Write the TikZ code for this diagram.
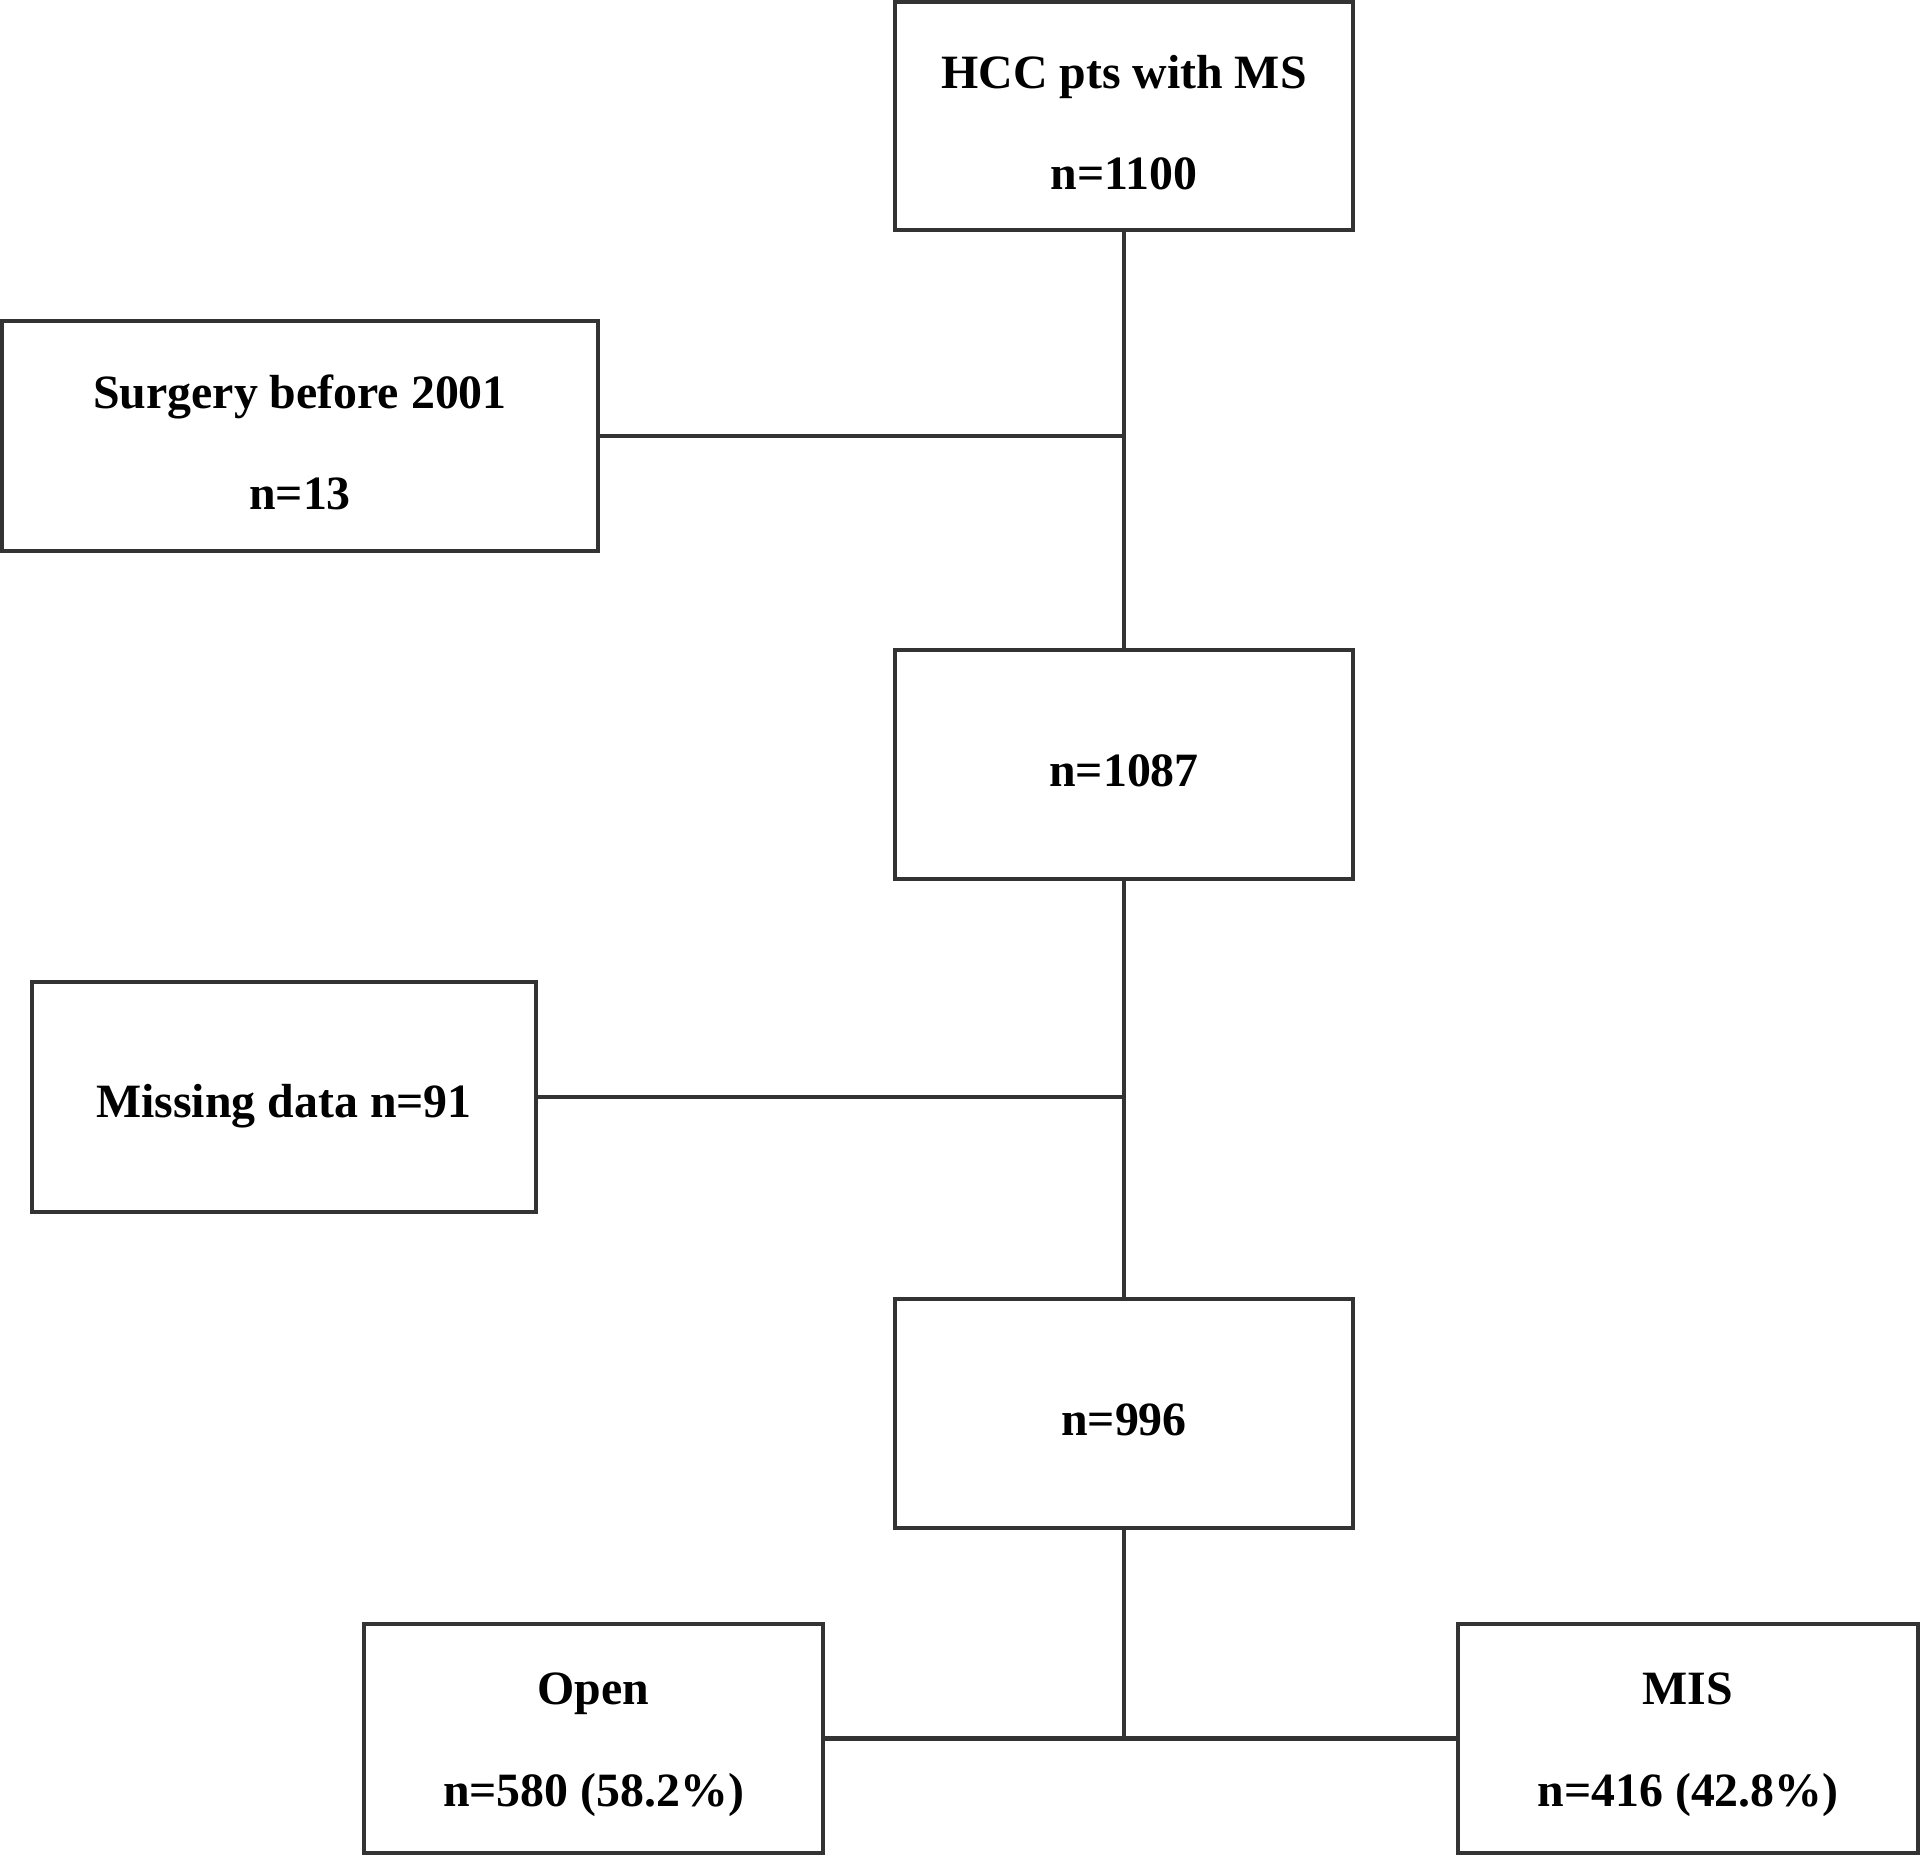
\documentclass[tikz,border=0pt]{standalone}
\usepackage{fontspec}
\setmainfont{Liberation Serif}
\begin{document}
\begin{tikzpicture}[x=0.01cm,y=-0.01cm,
  box/.style={draw=black!80, line width=0.045cm, inner sep=0pt},
  txt/.style={align=center, inner sep=0pt, yshift=-0.065cm,
    font=\fontsize{13.6}{28.9}\selectfont\bfseries},
  conn/.style={draw=black!80, line width=0.045cm}]
\useasboundingbox (0,0) rectangle (1920,1856);
\node[box, minimum width=4.58cm, minimum height=2.28cm,
  label={[txt]center:{HCC pts with MS\\n=1100}}] (top) at (1124,116) {};
\node[box, minimum width=5.96cm, minimum height=2.30cm,
  label={[txt]center:{Surgery before 2001\\n=13}}] (surg) at (300,436) {};
\node[box, minimum width=4.58cm, minimum height=2.29cm,
  label={[txt]center:{n=1087}}] (n1087) at (1124,764.5) {};
\node[box, minimum width=5.04cm, minimum height=2.30cm,
  label={[txt, yshift=-0.03cm]center:{Missing data n=91}}] (miss) at (284,1097) {};
\node[box, minimum width=4.58cm, minimum height=2.29cm,
  label={[txt]center:{n=996}}] (n996) at (1124,1413.5) {};
\node[box, minimum width=4.59cm, minimum height=2.29cm,
  label={[txt]center:{Open\\n=580 (58.2\%)}}] (open) at (593.5,1738.5) {};
\node[box, minimum width=4.60cm, minimum height=2.29cm,
  label={[txt]center:{MIS\\n=416 (42.8\%)}}] (mis) at (1688,1738.5) {};
\draw[conn] (top.south) -- (n1087.north);
\draw[conn] (surg.east) -- (surg.east -| top.south);
\draw[conn] (n1087.south) -- (n996.north);
\draw[conn] (miss.east) -- (miss.east -| n1087.south);
\draw[conn] (open.east) -- (mis.west);
\draw[conn] (n996.south) -- (open.east -| n996.south);
\end{tikzpicture}
\end{document}
